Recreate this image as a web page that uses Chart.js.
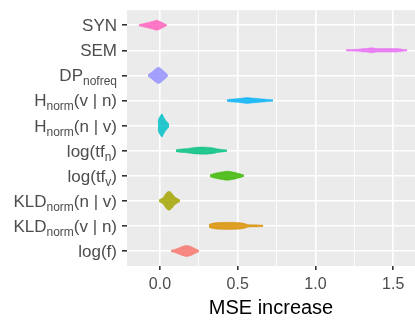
<!DOCTYPE html>
<html>
<head>
<meta charset="utf-8">
<script src="https://cdn.jsdelivr.net/npm/chart.js@4.4.1/dist/chart.umd.min.js"></script>
<style>
  body { margin: 0; background: #ffffff; }
  #wrap { width: 415px; height: 320px; }
</style>
</head>
<body>
<div id="wrap"><canvas id="violinChart" width="415" height="320"></canvas></div>
<script>
// categories, bottom to top (label = base + subscript + rest)
const labelBase = ['log(f)', 'KLD', 'KLD', 'log(tf', 'log(tf', 'H', 'H', 'DP', 'SEM', 'SYN'];
const labelSub  = ['', 'norm', 'norm', 'v', 'n', 'norm', 'norm', 'nofreq', '', ''];
const labelRest = ['', '(v | n)', '(n | v)', ')', ')', '(n | v)', '(v | n)', '', '', ''];

const colors = ['#F8766D', '#D89000', '#A3A500', '#39B600', '#00BF7D', '#00BFC4', '#00B0F6', '#9590FF', '#E76BF3', '#FF62BC'];

// violin outlines: x positions and half widths (in category units)
const violinX = [
    [0.071, 0.103, 0.135, 0.167, 0.2, 0.225, 0.251],
    [0.315, 0.335, 0.373, 0.438, 0.502, 0.541, 0.566, 0.611, 0.663],
    [-0.006, 0.019, 0.039, 0.058, 0.077, 0.097, 0.129],
    [0.322, 0.354, 0.386, 0.431, 0.47, 0.502, 0.54],
    [0.103, 0.142, 0.193, 0.225, 0.29, 0.335, 0.373, 0.431],
    [-0.013, -0.006, 0.006, 0.013, 0.019, 0.032, 0.045, 0.058],
    [0.431, 0.45, 0.49, 0.534, 0.56, 0.59, 0.63, 0.68, 0.727],
    [-0.077, -0.05, -0.025, -0.005, 0.02, 0.051],
    [1.197, 1.27, 1.306, 1.33, 1.36, 1.39, 1.42, 1.5, 1.544, 1.56, 1.589],
    [-0.135, -0.11, -0.084, -0.051, -0.03, -0.019, 0.006, 0.026, 0.045]
];
const violinW = [
    [0.03, 0.08, 0.16, 0.22, 0.18, 0.1, 0.03],
    [0.05, 0.1, 0.13, 0.14, 0.13, 0.1, 0.05, 0.04, 0.03],
    [0.04, 0.12, 0.3, 0.38, 0.3, 0.15, 0.03],
    [0.04, 0.1, 0.14, 0.18, 0.15, 0.1, 0.03],
    [0.04, 0.07, 0.1, 0.13, 0.14, 0.12, 0.07, 0.03],
    [0.15, 0.3, 0.42, 0.47, 0.4, 0.25, 0.15, 0.06],
    [0.03, 0.05, 0.07, 0.1, 0.12, 0.1, 0.08, 0.05, 0.03],
    [0.03, 0.15, 0.28, 0.32, 0.2, 0.03],
    [0.03, 0.04, 0.07, 0.07, 0.1, 0.07, 0.07, 0.07, 0.06, 0.04, 0.03],
    [0.03, 0.06, 0.1, 0.15, 0.19, 0.2, 0.14, 0.07, 0.02]
];

const xTicks = [0, 0.25, 0.5, 0.75, 1, 1.25, 1.5];
const xLabels = ['0.0', '', '0.5', '', '1.0', '', '1.5'];

function rgba(hex, a) {
    const n = parseInt(hex.slice(1), 16);
    return `rgba(${(n >> 16) & 255}, ${(n >> 8) & 255}, ${n & 255}, ${a})`;
}

const datasets = [];
violinX.forEach((xs, i) => {
    const c = rgba(colors[i], 0.85);
    const pos = i + 1;
    datasets.push({ data: xs.map((x, j) => ({ x: x, y: pos + violinW[i][j] })), borderColor: c, borderWidth: 0.5, fill: false, tension: 0.3, pointRadius: 0 });
    datasets.push({ data: xs.map((x, j) => ({ x: x, y: pos - violinW[i][j] })), borderColor: c, backgroundColor: c, borderWidth: 0.5, fill: '-1', tension: 0.3, pointRadius: 0 });
});

const panelBg = {
    id: 'panelBg',
    beforeDraw(chart) {
        const { ctx, chartArea: a } = chart;
        ctx.save();
        ctx.fillStyle = '#EBEBEB';
        ctx.fillRect(a.left, a.top, a.right - a.left, a.bottom - a.top);
        ctx.restore();
    }
};

// y labels with subscripts
const yLabels = {
    id: 'yLabels',
    afterDraw(chart) {
        const { ctx } = chart;
        const y = chart.scales.y;
        const right = 117;
        const big = '17px "Liberation Sans", Arial, sans-serif';
        const small = '12px "Liberation Sans", Arial, sans-serif';
        ctx.save();
        ctx.fillStyle = '#4D4D4D';
        ctx.textBaseline = 'alphabetic';
        ctx.textAlign = 'left';
        labelBase.forEach((base, i) => {
            const cy = y.getPixelForValue(i + 1);
            ctx.font = big;
            const wb = ctx.measureText(base).width;
            const wr = ctx.measureText(labelRest[i]).width;
            ctx.font = small;
            const ws = ctx.measureText(labelSub[i]).width;
            let x = right - wb - ws - wr;
            const base_y = cy + 6;
            ctx.font = big;
            ctx.fillText(base, x, base_y);
            x += wb;
            ctx.font = small;
            ctx.fillText(labelSub[i], x, base_y + 4);
            x += ws;
            ctx.font = big;
            ctx.fillText(labelRest[i], x, base_y);
        });
        ctx.restore();
    }
};

new Chart(document.getElementById('violinChart').getContext('2d'), {
    type: 'line',
    data: { datasets: datasets },
    plugins: [panelBg, yLabels],
    options: {
        responsive: false,
        animation: false,
        layout: { padding: { top: 9, right: 0, left: 0, bottom: 0 } },
        plugins: { legend: { display: false }, tooltip: { enabled: false } },
        scales: {
            x: {
                type: 'linear', min: -0.212, max: 1.64,
                afterBuildTicks: s => { s.ticks = xTicks.map(v => ({ value: v })); },
                afterFit: s => { s.height = 54; },
                border: { display: false },
                grid: {
                    color: '#FFFFFF',
                    lineWidth: c => (c.index % 2 === 0 ? 1.6 : 0.8),
                    tickColor: c => (c.index % 2 === 0 ? '#333333' : 'rgba(0,0,0,0)'),
                    tickLength: 4
                },
                ticks: {
                    autoSkip: false, maxRotation: 0, padding: 5,
                    color: '#4D4D4D',
                    font: { family: '"Liberation Sans", Arial, sans-serif', size: 16 },
                    callback: (v, i) => xLabels[i]
                },
                title: {
                    display: true, text: 'MSE increase', color: '#000000',
                    font: { family: '"Liberation Sans", Arial, sans-serif', size: 20 },
                    padding: { top: 0, bottom: 0 }
                }
            },
            y: {
                type: 'linear', min: 0.4, max: 10.6,
                afterBuildTicks: s => { s.ticks = labelBase.map((_, i) => ({ value: i + 1 })); },
                afterFit: s => { s.width = 127; },
                border: { display: false },
                grid: { color: '#FFFFFF', lineWidth: 1.6, tickColor: '#333333', tickLength: 5 },
                ticks: { autoSkip: false, callback: () => '' }
            }
        }
    }
});
</script>
</body>
</html>
